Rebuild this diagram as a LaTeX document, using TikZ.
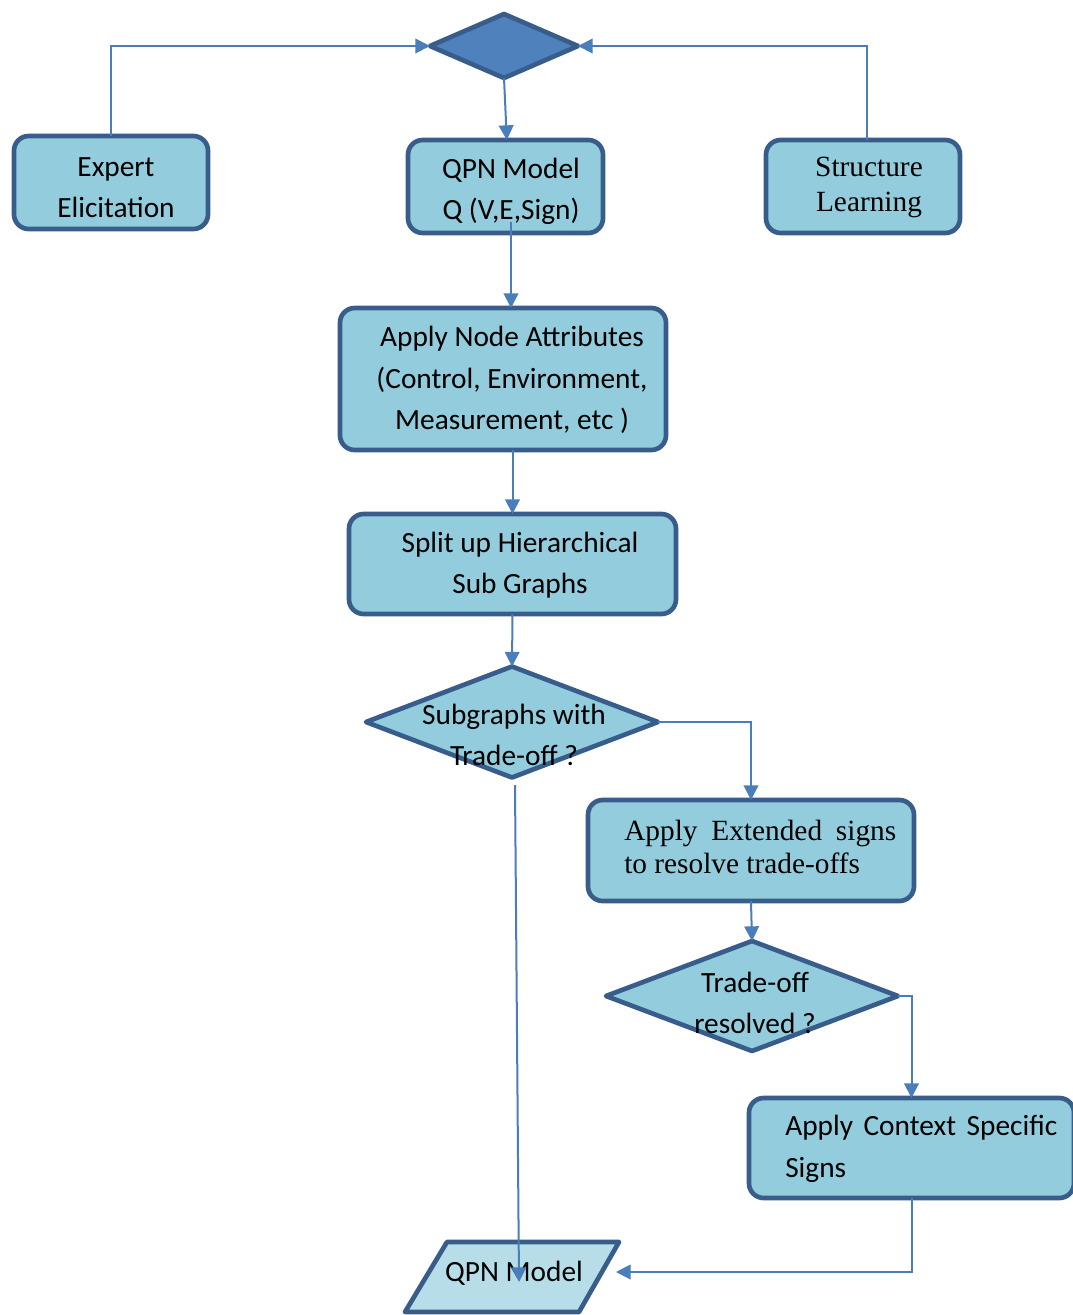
\documentclass[tikz,border=0pt]{standalone}
\usepackage{fontspec}
\setmainfont{Liberation Serif}
\setsansfont{Carlito}
\usetikzlibrary{shapes.geometric,arrows.meta}
\definecolor{boxfill}{HTML}{93CDDD}
\definecolor{boxline}{HTML}{385D8A}
\definecolor{conn}{HTML}{4A7EBB}
\definecolor{topfill}{HTML}{4F81BD}
\definecolor{iofill}{HTML}{B7DEE8}
\begin{document}
\begin{tikzpicture}[x=0.75pt,y=-0.75pt,
  box/.style={draw=boxline, fill=boxfill, line width=3.5pt, rounded corners=11pt, inner sep=0pt, outer sep=0pt},
  dia/.style={draw=boxline, fill=boxfill, line width=3.5pt, diamond, inner sep=0pt, outer sep=0pt, line join=round},
  sans/.style={font=\sffamily\fontsize{22}{31}\selectfont, align=center, inner sep=0pt},
  serif/.style={font=\rmfamily\fontsize{22}{26.25}\selectfont, align=center, inner sep=0pt},
  link/.style={draw=conn, line width=1.5pt, -{Triangle[length=11pt,width=11pt]}},
]
\clip (0,0) rectangle (1073,1315);
\fill[white] (0,0) rectangle (1073,1315);

% boxes
\node[box, minimum width=145.5pt, minimum height=69.75pt] (expert) at (111,182.5) {};
\node[box, minimum width=146.25pt, minimum height=69.75pt] (qpn) at (505.5,186.5) {};
\node[box, minimum width=145.5pt, minimum height=69.75pt] (struct) at (863,186.5) {};
\node[box, minimum width=244.5pt, minimum height=106.5pt] (attr) at (503,379) {};
\node[box, minimum width=245.25pt, minimum height=75pt] (split) at (512.5,564) {};
\node[box, minimum width=244.5pt, minimum height=75.75pt] (ext) at (751,850.5) {};
\node[box, minimum width=243.75pt, minimum height=75pt] (ctx) at (911.5,1148) {};

% diamonds
\node[dia, fill=topfill, minimum width=111pt, minimum height=48pt] (top) at (504,46) {};
\node[dia, minimum width=219pt, minimum height=83.25pt] (sub) at (512,722) {};
\node[dia, minimum width=219pt, minimum height=82.5pt] (res) at (752,996) {};

% texts
\node[sans] (texpert) at (116,188) {Expert\\Elicitation};
\node[sans] (tqpn) at (511,191) {QPN Model\\Q (V,E,Sign)};
\node[serif] (tstruct) at (869,187) {Structure\\Learning};
\node[sans] (tattr) at (512,380) {Apply Node Attributes\\(Control, Environment,\\Measurement, etc )};
\node[sans] (tsplit) at (520,565) {Split up Hierarchical\\Sub Graphs};
\node[sans] (tsub) at (514,735) {Subgraphs with\\Trade-off ?};
\node[serif, anchor=west, align=left, font=\rmfamily\fontsize{22}{24.75}\selectfont] (text) at (624,847) {\makebox[204pt][s]{Apply Extended signs}\\to resolve trade-offs};
\node[sans] (tres) at (755,1003) {Trade-off\\resolved ?};
\node[sans, anchor=west, align=left, font=\sffamily\fontsize{22}{31.5}\selectfont] (tctx) at (785,1149) {\makebox[204pt][s]{Apply Context Specific}\\Signs};

% output parallelogram
\draw[draw=boxline, fill=iofill, line width=3.5pt, line join=round] (447,1242) -- (619,1242) -- (579,1312) -- (405,1312) -- cycle;
\node[sans] (out) at (514,1273) {QPN Model};

% helper coordinates
\coordinate (qa) at (511,222);
\coordinate (sb) at (515,785);
\coordinate (qin) at (519,1282);
\coordinate (pin) at (616,1272);

% connectors
\draw[link] (expert.north) |- (top.west);
\draw[link] ([xshift=3]struct.north) |- (top.east);
\draw[link] (top.south) -- ([xshift=1]qpn.north);
\draw[link] (qa) -- (qa |- attr.north);
\draw[link] (split.north |- attr.south) -- (split.north);
\draw[link] (split.south) -- (sub.north);
\draw[link] (sub.east) -| (ext.north);
\draw[link] (sb) -- (qin);
\draw[link] (ext.south) -- (res.north);
\draw[link] (res.east) -| (ctx.north);
\draw[link] (ctx.south) |- (pin);
\end{tikzpicture}
\end{document}
